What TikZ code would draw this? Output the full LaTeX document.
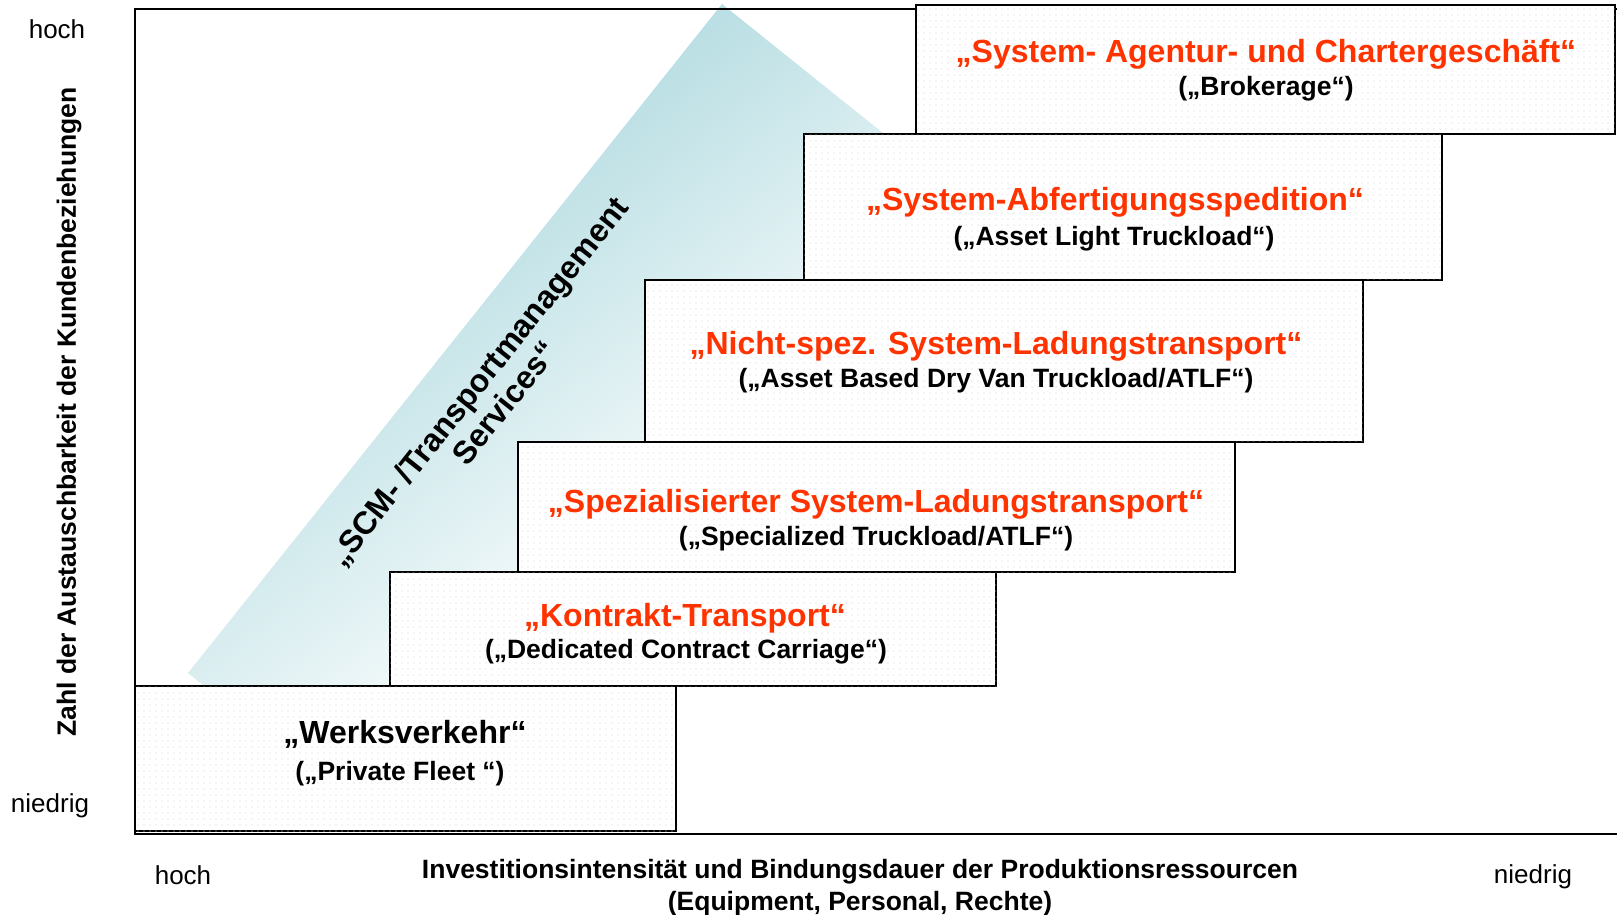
\documentclass[tikz,border=0pt]{standalone}
\usepackage{fontspec}
\setmainfont{Liberation Sans}
\usetikzlibrary{patterns.meta}
\definecolor{tuerkis}{RGB}{182,221,226}
\definecolor{signalrot}{RGB}{255,51,0}

\begin{document}
\begin{tikzpicture}[x=1pt,y=-1pt,
  stufe/.style={draw, line width=1.8pt, fill=white, inner sep=0pt,
    postaction={pattern={Dots[distance=6pt,radius=0.6pt]}, pattern color=black!18}},
  titel/.style={signalrot, font=\fontsize{32}{36}\selectfont\bfseries},
  unter/.style={font=\fontsize{26.5}{31}\selectfont\bfseries},
  achse/.style={font=\fontsize{26}{31}\selectfont},
  achsentitel/.style={font=\fontsize{26.5}{32}\selectfont\bfseries, align=center}]
\useasboundingbox (0,0) rectangle (1617,915);

% SCM-Dreieck, Verlauf tuerkis -> weiss
\begin{scope}
  \clip (722,4) -- (188,673) -- (204,686) -- (1573,686) -- cycle;
  \begin{scope}[transform canvas={rotate=38}]
    \fill[tuerkis] (-350,300) rectangle (900,430);
    \shade[top color=tuerkis, bottom color=white] (-350,430) rectangle (900,880);
  \end{scope}
\end{scope}

% Rahmen
\draw[line width=1.8pt] (1640,9) -- (135,9) -- (135,834) -- (1640,834);

% Stufen
\foreach \name/\x/\y/\w/\h in {charter/1265.5/69.5/699/129, abfert/1123/207/638/146,
    nichtspez/1004/361/718/162, spezial/876.5/507/717/130,
    kontrakt/693/629/606/114, werk/405.5/758.5/541/145}
  \node[stufe, minimum width=\w pt, minimum height=\h pt] (\name) at (\x,\y) {};

\node[titel] (charter-t) at (1266,54) {„System- Agentur- und Chartergeschäft“};
\node[unter] (charter-u) at (1266,89) {(„Brokerage“)};
\node[titel] (abfert-t) at (1115,202) {„System-Abfertigungsspedition“};
\node[unter] (abfert-u) at (1114,239) {(„Asset Light Truckload“)};
\node[titel] (nichtspez-t) at (996,346) {„Nicht-spez. System-Ladungstransport“};
\node[unter] (nichtspez-u) at (996,381) {(„Asset Based Dry Van Truckload/ATLF“)};
\node[titel] (spezial-t) at (876,504) {„Spezialisierter System-Ladungstransport“};
\node[unter] (spezial-u) at (876,539) {(„Specialized Truckload/ATLF“)};
\node[titel] (kontrakt-t) at (685,618) {„Kontrakt-Transport“};
\node[unter] (kontrakt-u) at (686,652) {(„Dedicated Contract Carriage“)};
\node[titel, black] (werk-t) at (405,734) {„Werksverkehr“};
\node[unter] (werk-u) at (400,774) {(„Private Fleet “)};

\node[font=\fontsize{32}{34}\selectfont\bfseries, rotate=51.5, align=center] (scm) at (491,392)
  {„SCM- /Transportmanagement\\Services“};

% Achsen
\node[achse] (y-hoch) at (57,29) {hoch};
\node[achse] (y-niedrig) at (50,806) {niedrig};
\node[achsentitel, rotate=90] (y-titel) at (69,412) {Zahl der Austauschbarkeit der Kundenbeziehungen};
\node[achse] (x-hoch) at (183,875) {hoch};
\node[achse] (x-niedrig) at (1533,877) {niedrig};
\node[achsentitel] (x-titel) at (860,888)
  {Investitionsintensität und Bindungsdauer der Produktionsressourcen\\(Equipment, Personal, Rechte)};
\end{tikzpicture}
\end{document}
